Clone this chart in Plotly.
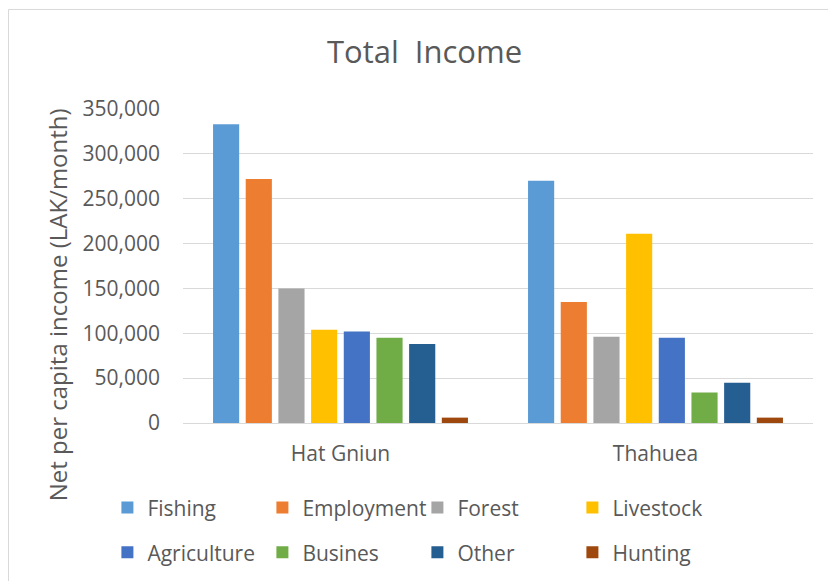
import plotly.graph_objects as go

# Villages on the x axis
villages = ["Hat Gniun", "Thahuea"]

# Net per capita income by source (LAK/month)
fishing = [333000, 270000]
employment = [272000, 135000]
forest = [150000, 96000]
livestock = [104000, 211000]
agriculture = [102000, 95000]
busines = [95000, 34000]
other = [88000, 45000]
hunting = [6000, 6000]

y_ticks = [0, 50000, 100000, 150000, 200000, 250000, 300000, 350000]

series = [
    ("Fishing", fishing, "#5B9BD5", "legend"),
    ("Employment", employment, "#ED7D31", "legend"),
    ("Forest", forest, "#A5A5A5", "legend"),
    ("Livestock", livestock, "#FFC000", "legend"),
    ("Agriculture", agriculture, "#4472C4", "legend2"),
    ("Busines", busines, "#70AD47", "legend2"),
    ("Other", other, "#255E91", "legend2"),
    ("Hunting", hunting, "#9E480E", "legend2"),
]

FONT = "Open Sans"
TXT = "#595959"

fig = go.Figure()
for name, vals, color, leg in series:
    fig.add_trace(go.Bar(
        x=villages, y=vals, name=name, legend=leg,
        marker=dict(color=color, line=dict(width=0)),
    ))

legend_common = dict(
    orientation="h", xanchor="left", yanchor="middle",
    font=dict(family=FONT, size=21, color=TXT),
    entrywidth=110, itemwidth=30, traceorder="normal",
    bgcolor="rgba(0,0,0,0)",
)

fig.update_layout(
    width=828, height=581,
    margin=dict(l=183, r=15, t=109, b=158, autoexpand=False),
    paper_bgcolor="white", plot_bgcolor="white",
    barmode="group", bargap=0.17, bargroupgap=0.2,
    font=dict(family=FONT, size=21, color=TXT),
    title=dict(
        text="Total  Income", x=0.5127, xanchor="center",
        xref="container", yref="container", y=0.91, yanchor="middle",
        font=dict(family=FONT, size=31, color=TXT),
    ),
    legend=dict(x=-0.12, y=-0.27, **legend_common),
    legend2=dict(x=-0.12, y=-0.413, **legend_common),
    xaxis=dict(
        showgrid=False, showline=False, zeroline=False, ticks="",
        tickfont=dict(family=FONT, size=21, color=TXT),
        ticklabelstandoff=16, automargin=False,
    ),
    yaxis=dict(
        range=[0, 350000], tickvals=y_ticks, tickformat=",d",
        showgrid=True, gridcolor="#D9D9D9", gridwidth=1,
        zeroline=True, zerolinecolor="#D9D9D9", zerolinewidth=1,
        showline=False, ticks="", automargin=False,
        tickfont=dict(family=FONT, size=21, color=TXT),
        ticklabelstandoff=22,
    ),
    annotations=[dict(
        text="Net per capita income (LAK/month)",
        xref="paper", yref="paper", x=-0.2, y=0.375,
        xanchor="center", yanchor="middle", textangle=-90,
        showarrow=False, font=dict(family=FONT, size=24, color=TXT),
    )],
    shapes=[dict(
        type="rect", xref="paper", yref="paper",
        x0=-0.277, x1=1.06, y0=-0.6, y1=1.317,
        line=dict(color="#D9D9D9", width=1), fillcolor="rgba(0,0,0,0)",
        layer="below",
    )],
)

fig.write_html("out.html")
